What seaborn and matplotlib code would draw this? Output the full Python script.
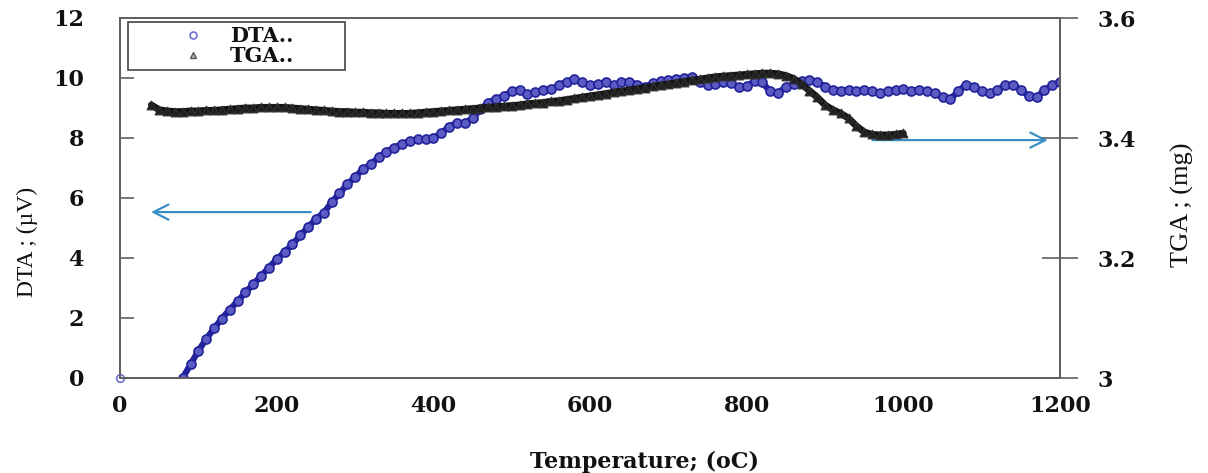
import matplotlib
matplotlib.use("Agg")
import matplotlib.pyplot as plt
from matplotlib.lines import Line2D
import seaborn as sns
import pandas as pd

# ---------------- data ----------------
dta_temp = [0] + list(range(80, 1201, 10))
dta_val = [0.0,
    0.0, 0.45, 0.9, 1.3, 1.65, 1.98, 2.28, 2.55, 2.85, 3.12,
    3.4, 3.68, 3.95, 4.2, 4.45, 4.75, 5.02, 5.3, 5.5, 5.85,
    6.15, 6.45, 6.7, 6.95, 7.12, 7.35, 7.54, 7.68, 7.8, 7.9,
    7.95, 7.97, 8.0, 8.15, 8.38, 8.5, 8.5, 8.65, 8.95, 9.18,
    9.3, 9.4, 9.55, 9.6, 9.45, 9.52, 9.6, 9.62, 9.75, 9.88,
    9.95, 9.85, 9.75, 9.8, 9.85, 9.75, 9.85, 9.88, 9.78, 9.7,
    9.82, 9.9, 9.93, 9.95, 10.0, 10.04, 9.85, 9.75, 9.8, 9.85,
    9.82, 9.7, 9.72, 9.9, 9.85, 9.55, 9.5, 9.7, 9.8, 9.9,
    9.93, 9.88, 9.7, 9.6, 9.58, 9.6, 9.55, 9.6, 9.55, 9.5,
    9.55, 9.6, 9.62, 9.58, 9.6, 9.55, 9.5, 9.35, 9.3, 9.55,
    9.78, 9.7, 9.55, 9.5, 9.6, 9.75, 9.78, 9.6, 9.4, 9.35,
    9.6, 9.75, 9.88]

tga_temp = list(range(40, 1001, 10))
tga_val = [
    3.455, 3.447, 3.445, 3.444, 3.444, 3.445, 3.445, 3.446, 3.446, 3.447,
    3.448, 3.449, 3.450, 3.450, 3.451, 3.451, 3.451, 3.451, 3.450, 3.449,
    3.448, 3.447, 3.446, 3.445, 3.444, 3.444, 3.443, 3.443, 3.442, 3.442,
    3.441, 3.441, 3.441, 3.441, 3.442, 3.443, 3.444, 3.445, 3.446, 3.447,
    3.448, 3.449, 3.450, 3.451, 3.452, 3.453, 3.454, 3.455, 3.457, 3.458,
    3.459, 3.461, 3.462, 3.464, 3.466, 3.468, 3.470, 3.472, 3.474, 3.476,
    3.478, 3.480, 3.482, 3.484, 3.486, 3.488, 3.490, 3.492, 3.494, 3.496,
    3.498, 3.500, 3.502, 3.503, 3.504, 3.505, 3.506, 3.507, 3.508, 3.508,
    3.507, 3.504, 3.499, 3.490, 3.479, 3.468, 3.455, 3.447, 3.441, 3.433,
    3.420, 3.410, 3.406, 3.405, 3.405, 3.406, 3.408]

x_ticks = [0, 200, 400, 600, 800, 1000, 1200]
dta_ticks = [0, 2, 4, 6, 8, 10, 12]
tga_ticks = [3.0, 3.2, 3.4, 3.6]
tga_tick_labels = ["3", "3.2", "3.4", "3.6"]

series_names = ["DTA..", "TGA.."]
x_label = "Temperature; (oC)"
dta_label = "DTA ; (µV)"
tga_label = "TGA ; (mg)"

dta_df = pd.DataFrame({"T": dta_temp, "v": dta_val})
tga_df = pd.DataFrame({"T": tga_temp, "v": tga_val})

# ---------------- style ----------------
sns.set_theme(style="white")
plt.rcParams["font.family"] = ["DejaVu Serif", "DejaVu Sans"]

W, H = 1208, 473
fig = plt.figure(figsize=(W / 100, H / 100), dpi=100)
ax = fig.add_axes([120 / W, 1 - 378 / H, 940 / W, 360 / H])
ax2 = ax.twinx()

dta_color = "#22229a"
tga_color = "#151515"
spine_col = "#606060"
arrow_col = "#3a8fc4"

# DTA
sns.lineplot(data=dta_df.iloc[1:], x="T", y="v", ax=ax, color=dta_color,
             lw=4.5, sort=False, estimator=None, zorder=2)
sns.scatterplot(data=dta_df.iloc[1:], x="T", y="v", ax=ax, marker="o", s=42,
                facecolor="#5b5bc4", edgecolor=dta_color, linewidth=1.2,
                zorder=3)
sns.scatterplot(data=dta_df.iloc[:1], x="T", y="v", ax=ax, marker="o", s=30,
                facecolor="white", edgecolor="#7070d4", linewidth=1.2,
                zorder=4, clip_on=False)

# TGA
sns.lineplot(data=tga_df, x="T", y="v", ax=ax2, color=tga_color,
             lw=5, sort=False, estimator=None, zorder=2)
sns.scatterplot(data=tga_df, x="T", y="v", ax=ax2, marker="^", s=40,
                color="#202020", edgecolor="#303030", linewidth=0.8, zorder=3)

ax.set_xlim(0, 1200)
ax.set_ylim(0, 12)
ax2.set_ylim(3.0, 3.6)
ax.set_xticks(x_ticks)
ax.set_yticks(dta_ticks)
ax2.set_yticks(tga_ticks)
ax2.set_yticklabels(tga_tick_labels)
ax.set_xlabel("")
ax.set_ylabel("")
ax2.set_ylabel("")

for lab in ax.get_xticklabels() + ax.get_yticklabels() + ax2.get_yticklabels():
    lab.set_fontfamily("DejaVu Serif")
    lab.set_fontweight("bold")
    lab.set_fontsize(16)
    lab.set_color("#111111")

ax.tick_params(axis="x", direction="in", length=5, width=1.2, color=spine_col, pad=12)
ax.tick_params(axis="y", direction="in", length=10, width=1.2, color=spine_col, pad=26)
ax2.tick_params(axis="y", direction="inout", length=26, width=1.2, color=spine_col, pad=14)

for a in (ax, ax2):
    for sp in a.spines.values():
        sp.set_color(spine_col)
        sp.set_linewidth(1.4)
        sp.set_visible(True)

# arrows
ax.annotate("", xy=(36, 5.53), xytext=(247, 5.53),
            arrowprops=dict(arrowstyle="->,head_length=0.9,head_width=0.45",
                            color=arrow_col, lw=1.6))
ax.annotate("", xy=(1188, 7.93), xytext=(957, 7.93),
            arrowprops=dict(arrowstyle="->,head_length=0.9,head_width=0.45",
                            color=arrow_col, lw=1.6))

# labels
fig.text(645 / W, 1 - 462 / H, x_label, ha="center", va="center",
         family="DejaVu Serif", weight="bold", size=16, color="#111111")
fig.text(27 / W, 1 - 242 / H, dta_label, ha="center", va="center", rotation=90,
         family=["Liberation Serif", "DejaVu Serif"], size=17, color="#111111")
fig.text(1182 / W, 1 - 205 / H, tga_label, ha="center", va="center", rotation=90,
         family=["Liberation Serif", "DejaVu Serif"], size=19, color="#111111")

# legend
handles = [
    Line2D([], [], ls="none", marker="o", ms=5, mfc="white", mec="#6e6ed8", mew=1.2),
    Line2D([], [], ls="none", marker="^", ms=5, mfc="#bbbbbb", mec="#555555", mew=1.0),
]
leg_h = 46 / 360
leg = ax2.legend(handles, series_names, loc="upper left", mode="expand",
                 bbox_to_anchor=(8 / 940, (378 - 22) / 360 - leg_h, 217 / 940, leg_h),
                 borderaxespad=0,
                 frameon=True, fancybox=False, edgecolor="#444444",
                 framealpha=1, handlelength=5.8, handletextpad=-1.1,
                 labelspacing=0.0, borderpad=0.2,
                 prop=dict(family="DejaVu Serif", weight="bold", size=15))
leg.get_frame().set_linewidth(1.2)
for t in leg.get_texts():
    t.set_color("#111111")

fig.savefig("out.png", dpi=100)
